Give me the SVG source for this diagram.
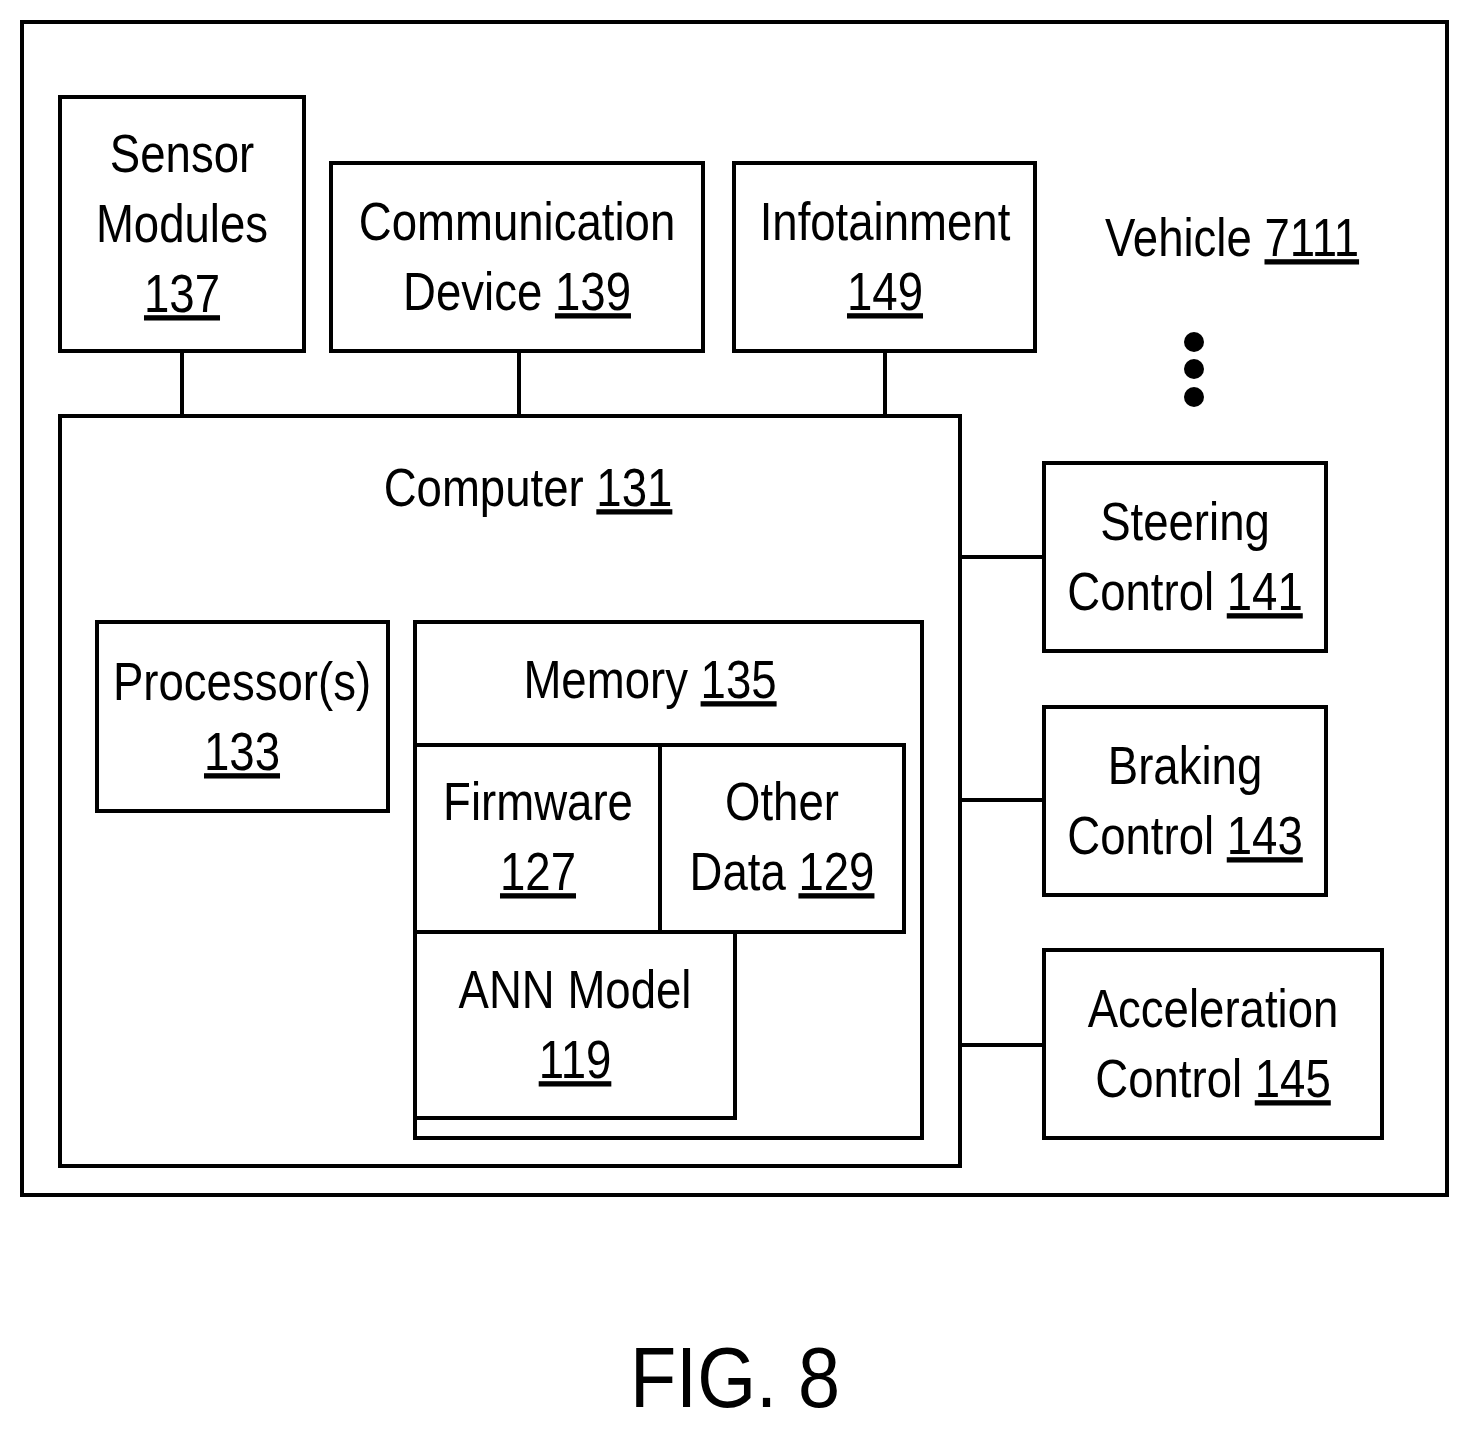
<svg xmlns="http://www.w3.org/2000/svg" width="1470" height="1431" viewBox="0 0 1470 1431">
<style>
rect{fill:none;stroke:#000;stroke-width:4}
line{stroke:#000;stroke-width:4}
text{font-family:"Liberation Sans",Arial,sans-serif;font-size:53px;text-anchor:middle;fill:#000}
.u{text-decoration:underline}
</style>
<rect x="0" y="0" width="1470" height="1431" style="fill:#fff;stroke:none"/>
<g id="vehicle"><rect x="22" y="22" width="1425" height="1173"/>
<g transform="translate(1232,256) scale(0.86 1)"><text>Vehicle  <tspan class="u">7111</tspan></text></g>
<circle cx="1194" cy="342" r="10"/><circle cx="1194" cy="369" r="10"/><circle cx="1194" cy="397" r="10"/></g>
<g id="connectors">
<line x1="182" y1="351" x2="182" y2="416"/><line x1="519" y1="351" x2="519" y2="416"/><line x1="885" y1="351" x2="885" y2="416"/>
<line x1="960" y1="557" x2="1044" y2="557"/><line x1="960" y1="800" x2="1044" y2="800"/><line x1="960" y1="1045" x2="1044" y2="1045"/>
</g>
<g id="sensor"><rect x="60" y="97" width="244" height="254"/>
<g transform="translate(182,172) scale(0.86 1)"><text>Sensor</text></g>
<g transform="translate(182,242) scale(0.86 1)"><text>Modules</text></g>
<g transform="translate(182,312) scale(0.86 1)"><text class="u">137</text></g></g>
<g id="comm"><rect x="331" y="163" width="372" height="188"/>
<g transform="translate(517,240) scale(0.86 1)"><text>Communication</text></g>
<g transform="translate(517,310) scale(0.86 1)"><text>Device  <tspan class="u">139</tspan></text></g></g>
<g id="info"><rect x="734" y="163" width="301" height="188"/>
<g transform="translate(885,240) scale(0.86 1)"><text>Infotainment</text></g>
<g transform="translate(885,310) scale(0.86 1)"><text class="u">149</text></g></g>
<g id="computer"><rect x="60" y="416" width="900" height="750"/>
<g transform="translate(528,506) scale(0.86 1)"><text>Computer  <tspan class="u">131</tspan></text></g></g>
<g id="proc"><rect x="97" y="622" width="291" height="189"/>
<g transform="translate(242,700) scale(0.86 1)"><text>Processor(s)</text></g>
<g transform="translate(242,770) scale(0.86 1)"><text class="u">133</text></g></g>
<g id="memory"><rect x="415" y="622" width="507" height="516"/>
<g transform="translate(650,698) scale(0.86 1)"><text>Memory  <tspan class="u">135</tspan></text></g></g>
<g id="firmware"><rect x="415" y="745" width="245" height="187"/>
<g transform="translate(538,820) scale(0.86 1)"><text>Firmware</text></g>
<g transform="translate(538,890) scale(0.86 1)"><text class="u">127</text></g></g>
<g id="other"><rect x="660" y="745" width="244" height="187"/>
<g transform="translate(782,820) scale(0.86 1)"><text>Other</text></g>
<g transform="translate(782,890) scale(0.86 1)"><text>Data  <tspan class="u">129</tspan></text></g></g>
<g id="ann"><rect x="415" y="932" width="320" height="186"/>
<g transform="translate(575,1008) scale(0.86 1)"><text>ANN Model</text></g>
<g transform="translate(575,1078) scale(0.86 1)"><text class="u">119</text></g></g>
<g id="steer"><rect x="1044" y="463" width="282" height="188"/>
<g transform="translate(1185,540) scale(0.86 1)"><text>Steering</text></g>
<g transform="translate(1185,610) scale(0.86 1)"><text>Control  <tspan class="u">141</tspan></text></g></g>
<g id="brake"><rect x="1044" y="707" width="282" height="188"/>
<g transform="translate(1185,784) scale(0.86 1)"><text>Braking</text></g>
<g transform="translate(1185,854) scale(0.86 1)"><text>Control  <tspan class="u">143</tspan></text></g></g>
<g id="accel"><rect x="1044" y="950" width="338" height="188"/>
<g transform="translate(1213,1027) scale(0.86 1)"><text>Acceleration</text></g>
<g transform="translate(1213,1097) scale(0.86 1)"><text>Control  <tspan class="u">145</tspan></text></g></g>
<g transform="translate(735,1407) scale(0.88 1)"><text style="font-size:86px">FIG. 8</text></g>
</svg>
